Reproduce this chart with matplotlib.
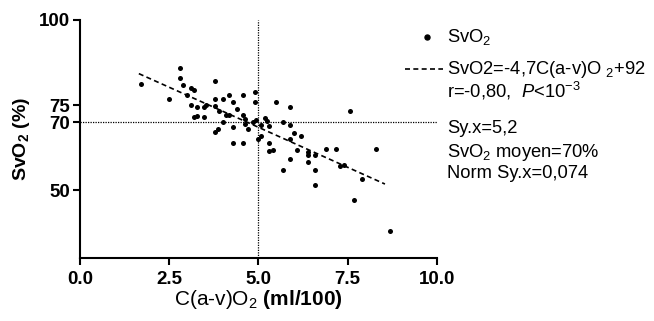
import matplotlib
matplotlib.use('Agg')
import matplotlib.pyplot as plt
from matplotlib.lines import Line2D

plt.rcParams['font.family'] = ['Liberation Sans', 'DejaVu Sans']
plt.rcParams['mathtext.fontset'] = 'custom'
plt.rcParams['mathtext.rm'] = 'Liberation Sans'
plt.rcParams['mathtext.it'] = 'Liberation Sans:italic'
plt.rcParams['mathtext.bf'] = 'Liberation Sans:bold'

# C(a-v)O2 (ml/100) vs SvO2 (%)
cav_o2 = [1.70, 2.50, 2.79, 2.79, 2.90, 3.00, 3.11, 3.21, 3.10, 3.21,
          3.29, 3.29, 3.49, 3.53, 3.49, 3.79, 3.79, 3.79, 3.90, 4.00,
          4.19, 4.30, 4.40, 4.58, 4.90, 4.90, 4.10, 4.19, 4.58, 4.00,
          4.62, 4.62, 4.70, 4.30, 3.79, 3.88, 4.30, 4.58, 4.84, 4.93,
          5.18, 5.24, 5.30, 5.08, 5.08, 5.00, 5.30, 5.30, 5.40, 5.49,
          5.70, 5.90, 5.90, 6.01, 5.90, 6.19, 6.09, 5.90, 5.70, 6.40,
          6.40, 6.60, 6.40, 6.60, 6.60, 6.89, 7.18, 7.29, 7.39, 7.58,
          7.90, 7.69, 8.29, 8.69]
svo2 = [81.2, 76.9, 85.9, 83.0, 81.0, 78.1, 80.1, 79.4, 75.0, 71.5,
        71.8, 74.3, 74.4, 75.0, 71.6, 82.0, 76.9, 74.8, 73.2, 76.9,
        77.9, 76.0, 74.0, 77.9, 78.9, 76.0, 72.2, 72.0, 72.2, 70.1,
        70.9, 69.5, 68.1, 68.7, 67.2, 68.0, 64.0, 64.0, 69.9, 70.5,
        71.1, 70.3, 68.9, 69.1, 65.8, 65.0, 64.0, 61.5, 61.9, 75.9,
        70.1, 74.5, 69.1, 66.8, 65.0, 66.0, 61.7, 59.1, 55.8, 61.1,
        60.4, 60.3, 58.2, 56.0, 51.4, 62.1, 62.1, 57.0, 57.4, 73.2,
        53.4, 47.2, 62.1, 38.0]

fit_slope = -4.7
fit_intercept = 92
fit_x = [1.65, 8.55]
mean_svo2 = 70
x_split = 5.0

fig = plt.figure(figsize=(6.54, 3.21), dpi=100)
ax = fig.add_axes([0.1223, 0.1953, 0.5454, 0.7424])

ax.scatter(cav_o2, svo2, s=13, color='black', zorder=3, linewidths=0)
ax.plot(fit_x, [fit_slope * x + fit_intercept for x in fit_x],
        color='black', lw=1.2, ls=(0, (3, 2)))
ax.axvline(x_split, color='black', lw=0.9, ls=(0, (1, 1)))
ax.axhline(mean_svo2, color='black', lw=0.9, ls=(0, (1, 1)))

ax.set_xlim(0, 10)
ax.set_ylim(30, 100)
ax.set_xticks([0, 2.5, 5, 7.5, 10])
ax.set_xticklabels(['0.0', '2.5', '5.0', '7.5', '10.0'])
ax.set_yticks([50, 70, 75, 100])
for lab in ax.get_xticklabels() + ax.get_yticklabels():
    lab.set_fontweight('bold')
    lab.set_fontsize(13.5)
ax.tick_params(direction='out', length=5, width=1.5)
ax.tick_params(axis='x', pad=4)
ax.tick_params(axis='y', pad=2)
for side in ['top', 'right']:
    ax.spines[side].set_visible(False)
for side in ['left', 'bottom']:
    ax.spines[side].set_linewidth(1.5)

ax.set_xlabel(r'C(a-v)O$_2$ $\mathbf{(ml/100)}$', fontsize=15, labelpad=0)
ax.set_ylabel(r'$\mathbf{SvO_2}$ $\mathbf{(\%)}$', fontsize=14, labelpad=5)

# legend / stats on the right, in pixel coords of the figure
W, H = 654, 321


def fx(px):
    return px / W


def fy(py):
    return 1 - py / H


fs = 13.2
fig.add_artist(Line2D([fx(427)], [fy(37)], marker='o', ms=3.6, color='black'))
fig.text(fx(447), fy(37), r'SvO$_2$', fontsize=fs, va='center')
fig.add_artist(Line2D([fx(405), fx(443)], [fy(69), fy(69)], color='black',
                      lw=1.2, ls=(0, (3, 2))))
fig.text(fx(447), fy(69), r'SvO2=-4,7C(a-v)O $_2$+92', fontsize=fs, va='center')
fig.text(fx(447), fy(91), r'r=-0,80,  $P$<10$^{-3}$', fontsize=fs, va='center')
fig.text(fx(447), fy(129), 'Sy.x=5,2', fontsize=fs, va='center')
fig.text(fx(447), fy(152), r'SvO$_2$ moyen=70%', fontsize=fs, va='center')
fig.text(fx(447), fy(174), 'Norm Sy.x=0,074', fontsize=fs, va='center')

fig.savefig('out.png', dpi=100)
